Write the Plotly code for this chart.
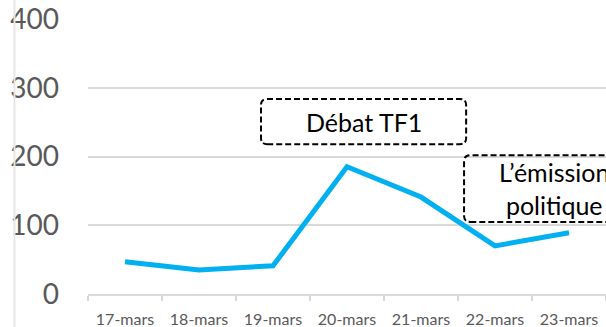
import plotly.graph_objects as go

# Daily mention counts around the televised debates
dates = ["17-mars", "18-mars", "19-mars", "20-mars", "21-mars", "22-mars", "23-mars"]
mentions = [47, 35, 41, 185, 141, 70, 89]

y_ticks = [0, 100, 200, 300, 400]

fig = go.Figure()
fig.add_trace(go.Scatter(
    x=dates, y=mentions, mode="lines",
    line=dict(color="#00B0F0", width=5, shape="linear"),
    hoverinfo="skip", showlegend=False,
))

grey = "#595959"
grid = "#d9d9d9"

fig.update_layout(
    width=606, height=327,
    margin=dict(l=88, r=0, t=19, b=33),
    paper_bgcolor="white", plot_bgcolor="white",
    font=dict(family="Lato, 'Open Sans', sans-serif", color=grey),
    xaxis=dict(
        type="category", range=[-0.5, 6.5],
        showgrid=False, showline=True, linecolor=grid, linewidth=1.5,
        ticks="outside", tickson="boundaries", ticklen=5, tickcolor=grid, tickwidth=1.5,
        tickfont=dict(size=16, color=grey), ticklabelstandoff=10,
        zeroline=False,
    ),
    yaxis=dict(
        range=[0, 400], tickvals=y_ticks, ticktext=[str(v) for v in y_ticks],
        showgrid=True, gridcolor=grid, gridwidth=1.5,
        showline=False, zeroline=False, ticks="",
        tickfont=dict(size=28, color=grey), ticklabelstandoff=28,
    ),
)

def rounded_box(x0, y0, x1, y1, rx, ry):
    """Rounded rectangle path in paper coordinates."""
    return (f"M {x0+rx},{y0} L {x1-rx},{y0} Q {x1},{y0} {x1},{y0+ry} "
            f"L {x1},{y1-ry} Q {x1},{y1} {x1-rx},{y1} L {x0+rx},{y1} "
            f"Q {x0},{y1} {x0},{y1-ry} L {x0},{y0+ry} Q {x0},{y0} {x0+rx},{y0} Z")

rx, ry = 0.012, 0.022
box_line = dict(color="black", width=2, dash="6px,3px")

# Callout boxes
fig.add_shape(type="path", xref="paper", yref="paper",
              path=rounded_box(0.334, 0.545, 0.730, 0.709, rx, ry), line=box_line)
fig.add_shape(type="path", xref="paper", yref="paper",
              path=rounded_box(0.726, 0.262, 1.06, 0.505, rx, ry), line=box_line)

fig.add_annotation(xref="paper", yref="paper", x=0.532, y=0.627,
                   text="Débat TF1", showarrow=False,
                   font=dict(size=25, color="black"), xanchor="center", yanchor="middle")
fig.add_annotation(xref="paper", yref="paper", x=0.9, y=0.383,
                   text="L’émission<br>politique", showarrow=False,
                   font=dict(size=25, color="black"), xanchor="center", yanchor="middle",
                   align="center")

# Outer frame edge on the left
fig.add_shape(type="line", xref="paper", yref="paper",
              x0=-0.1419, x1=-0.1419, y0=-0.2, y1=1.1,
              line=dict(color="#e6e6e6", width=2))

fig.write_html("out.html")
